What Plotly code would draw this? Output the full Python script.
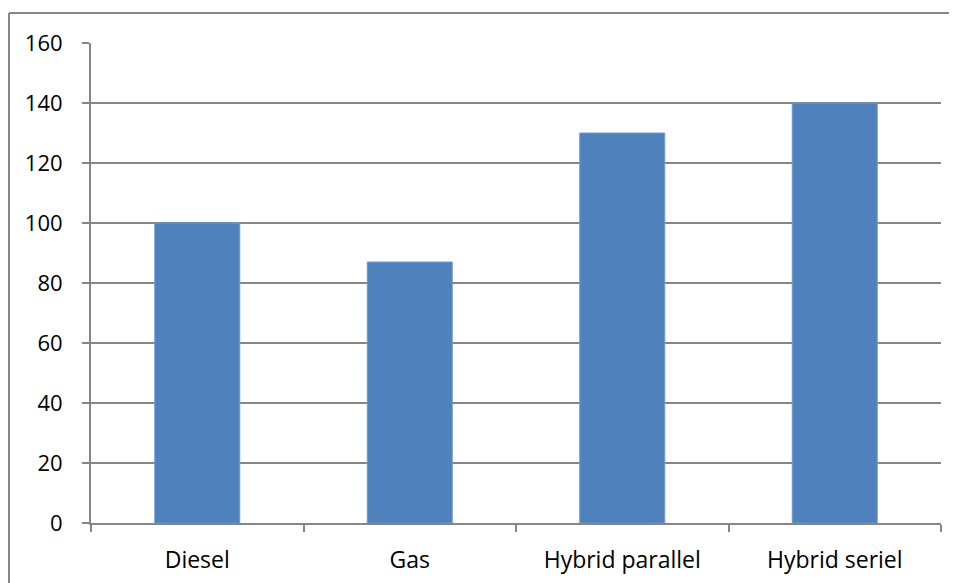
import plotly.graph_objects as go

categories = ["Diesel", "Gas", "Hybrid parallel", "Hybrid seriel"]
values = [100, 87, 130, 140]
y_ticks = [0, 20, 40, 60, 80, 100, 120, 140, 160]

# page has an 8px body margin; figure sized so page is 957x583
W, H = 949, 575
L, R, T, B = 83, 16, 35, 60
pw, ph = W - L - R, H - T - B

fig = go.Figure(go.Bar(
    x=categories, y=values,
    marker=dict(color="#4F81BD", line=dict(color="#6f9bd0", width=1)),
    width=0.4,
))

grid_col = "#868686"
fig.update_layout(
    width=W, height=H,
    margin=dict(l=L, r=R, t=T, b=B, pad=0, autoexpand=False),
    paper_bgcolor="white", plot_bgcolor="white",
    font=dict(family="Open Sans", size=22, color="#000000"),
    showlegend=False,
    xaxis=dict(
        type="category", tickson="boundaries", automargin=False,
        ticks="outside", ticklen=7, tickcolor=grid_col, tickwidth=2,
        showline=True, linecolor=grid_col, linewidth=2,
        showgrid=False, tickfont=dict(size=23), ticklabelstandoff=15,
    ),
    yaxis=dict(
        range=[0, 160], tickvals=y_ticks, automargin=False,
        ticks="outside", ticklen=7, tickcolor=grid_col, tickwidth=2,
        showline=True, linecolor=grid_col, linewidth=2,
        showgrid=True, gridcolor=grid_col, gridwidth=2,
        zeroline=False, ticklabelstandoff=15,
    ),
    shapes=[
        dict(type="line", xref="paper", yref="paper",
             x0=(1 - L) / pw, x1=(W + 5 - L) / pw,
             y0=1 + (T - 5) / ph, y1=1 + (T - 5) / ph,
             line=dict(color="#868686", width=2)),
        dict(type="line", xref="paper", yref="paper",
             x0=(1 - L) / pw, x1=(1 - L) / pw,
             y0=1 + (T - 5) / ph, y1=-(B + 5) / ph,
             line=dict(color="#868686", width=2)),
    ],
)

fig.write_html("out.html")
